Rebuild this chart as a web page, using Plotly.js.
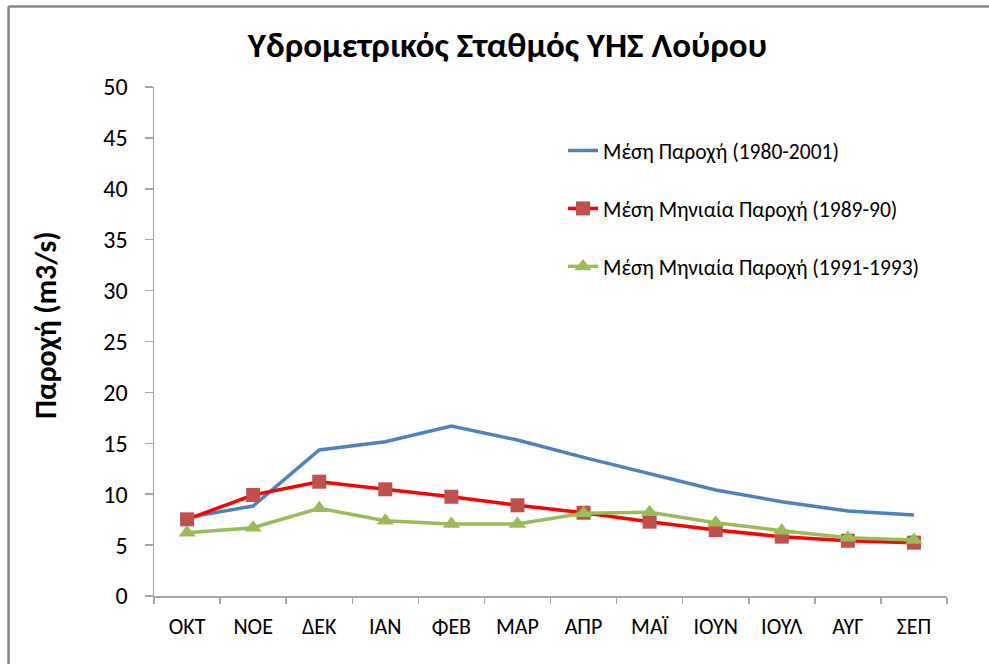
<!DOCTYPE html>
<html>
<head>
<meta charset="utf-8">
<script src="https://cdn.plot.ly/plotly-3.0.1.min.js"></script>
<style>html,body{margin:0;padding:0;background:#fff;overflow:hidden}</style>
</head>
<body>
<div id="chart" style="width:989px;height:664px;"></div>
<script>
const months = ["ΟΚΤ","ΝΟΕ","ΔΕΚ","ΙΑΝ","ΦΕΒ","ΜΑΡ","ΑΠΡ","ΜΑΪ","ΙΟΥΝ","ΙΟΥΛ","ΑΥΓ","ΣΕΠ"];
const meanFlow = [7.7, 8.84, 14.34, 15.16, 16.7, 15.32, 13.62, 11.98, 10.41, 9.26, 8.35, 7.96];
const monthly8990 = [7.53, 9.92, 11.23, 10.48, 9.75, 8.91, 8.18, 7.3, 6.48, 5.83, 5.43, 5.24];
const monthly9193 = [6.22, 6.71, 8.61, 7.4, 7.07, 7.07, 8.12, 8.22, 7.2, 6.42, 5.73, 5.5];
const seriesNames = ["Μέση Παροχή (1980-2001)", "Μέση Μηνιαία Παροχή (1989-90)", "Μέση Μηνιαία Παροχή (1991-1993)"];
const yTitle = "Παροχή (m3/s)";

const font = "Calibri, Carlito, 'Open Sans', 'Noto Sans', sans-serif";

const traces = [
  {x: months, y: meanFlow, name: seriesNames[0], type: "scatter", mode: "lines",
   line: {color: "#4F81BD", width: 3.5}, legendgroup: "a"},
  {x: months, y: monthly8990, name: seriesNames[1], type: "scatter", mode: "lines+markers",
   line: {color: "#FF0000", width: 3.5}, marker: {symbol: "square", size: 14, color: "#C0504D"}, legendgroup: "b"},
  {x: months, y: monthly9193, name: seriesNames[2], type: "scatter", mode: "lines+markers",
   line: {color: "#9BBB59", width: 3.5}, marker: {symbol: "triangle-up", size: 15, color: "#9BBB59"}, legendgroup: "c"}
];

const L = 154, R = 947, T = 87, B = 596;
const pw = R - L, ph = B - T;
const px = v => (v - L) / pw;
const py = v => (B - v) / ph;

const layout = {
  width: 989, height: 664,
  margin: {l: L, r: 989 - R, t: T, b: 664 - B, pad: 0},
  paper_bgcolor: "#fff", plot_bgcolor: "#fff",
  font: {family: font, color: "#000"},
  title: {text: "Υδρομετρικός Σταθμός ΥΗΣ Λούρου", font: {family: font, size: 35, color: "#000", weight: "bold"},
          x: 0.513, xanchor: "center", y: 0.932, yanchor: "middle"},
  showlegend: true,
  legend: {x: px(563), y: py(130), xanchor: "left", yanchor: "top", font: {family: font, size: 21.5, color: "#000"},
           traceorder: "grouped", tracegroupgap: 27, bgcolor: "rgba(0,0,0,0)", itemwidth: 30},
  xaxis: {type: "category", range: [-0.5, 11.5], autorange: false, showgrid: false, showline: true, linecolor: "#A6A6A6", linewidth: 1.5,
          ticks: "outside", tickson: "boundaries", ticklen: 6, tickcolor: "#A6A6A6", tickwidth: 1.5,
          tickfont: {family: font, size: 22, color: "#000"}, zeroline: false, fixedrange: true, ticklabelstandoff: 10},
  yaxis: {range: [0, 50], dtick: 5, showgrid: false, showline: true, linecolor: "#A6A6A6", linewidth: 1.5,
          ticks: "outside", ticklen: 8, tickcolor: "#A6A6A6", tickwidth: 1.5, zeroline: false,
          tickfont: {family: font, size: 24, color: "#000"}, ticklabelstandoff: 12},
  annotations: [
    {text: yTitle, xref: "paper", yref: "paper", x: px(45), y: py(325), xanchor: "center", yanchor: "middle",
     textangle: -90, showarrow: false, font: {family: font, size: 30, color: "#000", weight: "bold"}}
  ],
  shapes: [
    {type: "line", xref: "paper", yref: "paper", x0: px(8.5), x1: px(995), y0: py(6.5), y1: py(6.5), line: {color: "#868686", width: 2.5}},
    {type: "line", xref: "paper", yref: "paper", x0: px(8.5), x1: px(8.5), y0: py(6.5), y1: py(670), line: {color: "#868686", width: 2.5}}
  ]
};

Plotly.newPlot("chart", traces, layout, {displayModeBar: false, staticPlot: true});
</script>
</body>
</html>
